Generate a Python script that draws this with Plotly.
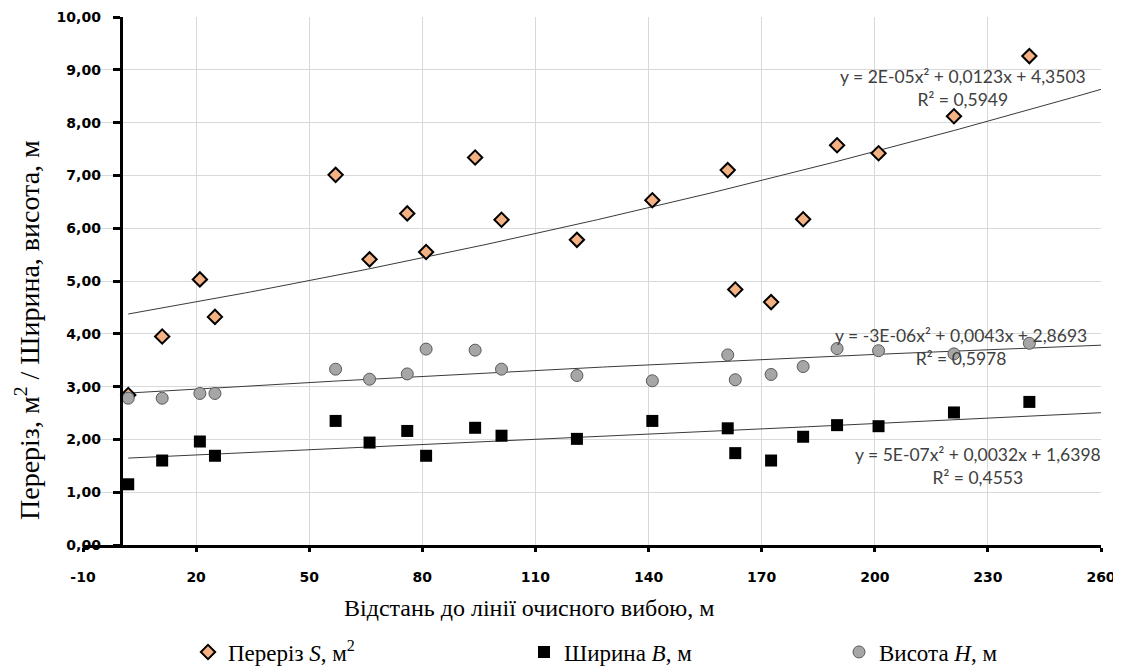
import numpy as np
import plotly.graph_objects as go

# ---- data ----
distance = [2, 11, 21, 25, 57, 66, 76, 81, 94, 101, 121, 141, 161, 163, 172.5, 181, 190, 201, 221, 241]
section_S = [2.84, 3.95, 5.03, 4.32, 7.01, 5.41, 6.28, 5.55, 7.34, 6.16, 5.78, 6.53, 7.10, 4.84, 4.60, 6.17, 7.57, 7.42, 8.12, 9.26]
width_B = [1.15, 1.60, 1.96, 1.69, 2.35, 1.94, 2.16, 1.69, 2.22, 2.07, 2.01, 2.35, 2.21, 1.74, 1.60, 2.05, 2.27, 2.25, 2.51, 2.71]
height_H = [2.78, 2.78, 2.87, 2.87, 3.33, 3.14, 3.24, 3.71, 3.69, 3.33, 3.21, 3.11, 3.60, 3.13, 3.23, 3.38, 3.72, 3.68, 3.62, 3.82]

# polynomial trendline coefficients (a, b, c) as shown on the chart (a of S unrounded from the drawn curve)
trend_S = [1.6e-05, 0.0123, 4.3503]
trend_B = [5e-07, 0.0032, 1.6398]
trend_H = [-3e-06, 0.0043, 2.8693]

eq_S = "y = 2E-05x² + 0,0123x + 4,3503<br>R² = 0,5949"
eq_H = "y = -3E-06x² + 0,0043x + 2,8693<br>R² = 0,5978"
eq_B = "y = 5E-07x² + 0,0032x + 1,6398<br>R² = 0,4553"

x_ticks = [-10, 20, 50, 80, 110, 140, 170, 200, 230, 260]
x_ticktext = ["-10", "20", "50", "80", "110", "140", "170", "200", "230", "260"]

x_min, x_max = -10, 260
trend_end = 260

fig = go.Figure()

xs = np.linspace(min(distance), trend_end, 200)
for coeffs in (trend_S, trend_B, trend_H):
    fig.add_trace(go.Scatter(x=xs, y=np.polyval(coeffs, xs), mode="lines",
                             line=dict(color="#3a3a3a", width=1),
                             showlegend=False, hoverinfo="skip"))

fig.add_trace(go.Scatter(
    x=distance, y=section_S, mode="markers", name="Переріз <i>S</i>, м<sup>2</sup>",
    marker=dict(symbol="diamond", size=11, color="#F4B183", line=dict(color="black", width=2)),
    legend="legend"))
fig.add_trace(go.Scatter(
    x=distance, y=width_B, mode="markers", name="Ширина <i>B</i>, м",
    marker=dict(symbol="square", size=12, color="black", line=dict(color="black", width=0)),
    legend="legend2"))
fig.add_trace(go.Scatter(
    x=distance, y=height_H, mode="markers", name="Висота <i>H</i>, м",
    marker=dict(symbol="circle", size=12, color="#A6A6A6", line=dict(color="#595959", width=1)),
    legend="legend3"))

eq_font = dict(family="Lato, Open Sans, sans-serif", size=17.5, color="#404040")
for txt, xx, yy in ((eq_S, 223.3, 8.65), (eq_H, 222.8, 3.75), (eq_B, 227.3, 1.49)):
    fig.add_annotation(x=xx, y=yy, xref="x", yref="y", text=txt, showarrow=False,
                       font=eq_font, align="center", xanchor="center", yanchor="middle")

OFF = 8  # page body margin
L, W, T, H = 83 - OFF, 1018, 17 - OFF, 528
FW, FH = 1121 - OFF, 668 - OFF


def px(xp):
    return (xp - OFF - L) / W


def py(yp):
    return (T + H - (yp - OFF)) / H


serif = "Liberation Serif, Times New Roman, serif"
fig.add_annotation(text="Переріз, м<sup>2</sup> / Ширина, висота, м", textangle=-90,
                   xref="paper", yref="paper", x=px(27), y=py(330),
                   xanchor="center", yanchor="middle", showarrow=False,
                   font=dict(family=serif, size=28, color="black"))
fig.add_annotation(text="Відстань до лінії очисного вибою, м",
                   xref="paper", yref="paper", x=px(529), y=py(608),
                   xanchor="center", yanchor="middle", showarrow=False,
                   font=dict(family=serif, size=24, color="black"))

tick_font_x = dict(family="DejaVu Sans, Verdana, sans-serif", size=14, color="black", weight="bold")
tick_font_y = dict(family="DejaVu Sans, Verdana, sans-serif", size=14, color="black", weight="bold")
legend_font = dict(family=serif, size=23, color="black")
leg_y = py(652)

fig.update_layout(
    width=FW, height=FH,
    margin=dict(l=L, r=FW - L - W, t=T, b=FH - T - H, autoexpand=False),
    paper_bgcolor="white", plot_bgcolor="white",
    separators=", ",
    xaxis=dict(range=[x_min, x_max], tickmode="array", tickvals=x_ticks, ticktext=x_ticktext,
               showgrid=True, gridcolor="#D9D9D9", automargin=False,
               gridwidth=1, zeroline=False, showline=True, linecolor="black", linewidth=3,
               ticks="outside", ticklen=4, tickwidth=3, tickcolor="black", tickfont=tick_font_x,
               ticklabelstandoff=13),
    yaxis=dict(range=[0, 10], dtick=1, tickformat=".2f", showgrid=True, gridcolor="#D9D9D9",
               gridwidth=1, zeroline=False, showline=True, linecolor="black", linewidth=3,
               automargin=False,
               ticks="outside", ticklen=7, tickwidth=3, tickcolor="black", tickfont=tick_font_y,
               ticklabelstandoff=9,
               anchor="free", position=(0 - x_min) / (x_max - x_min)),
    legend=dict(x=px(188), y=leg_y, xanchor="left", yanchor="middle",
                font=legend_font, bgcolor="rgba(0,0,0,0)"),
    legend2=dict(x=px(524), y=leg_y, xanchor="left", yanchor="middle",
                 font=legend_font, bgcolor="rgba(0,0,0,0)"),
    legend3=dict(x=px(839), y=leg_y, xanchor="left", yanchor="middle",
                 font=legend_font, bgcolor="rgba(0,0,0,0)"),
)

fig.write_html("out.html")
